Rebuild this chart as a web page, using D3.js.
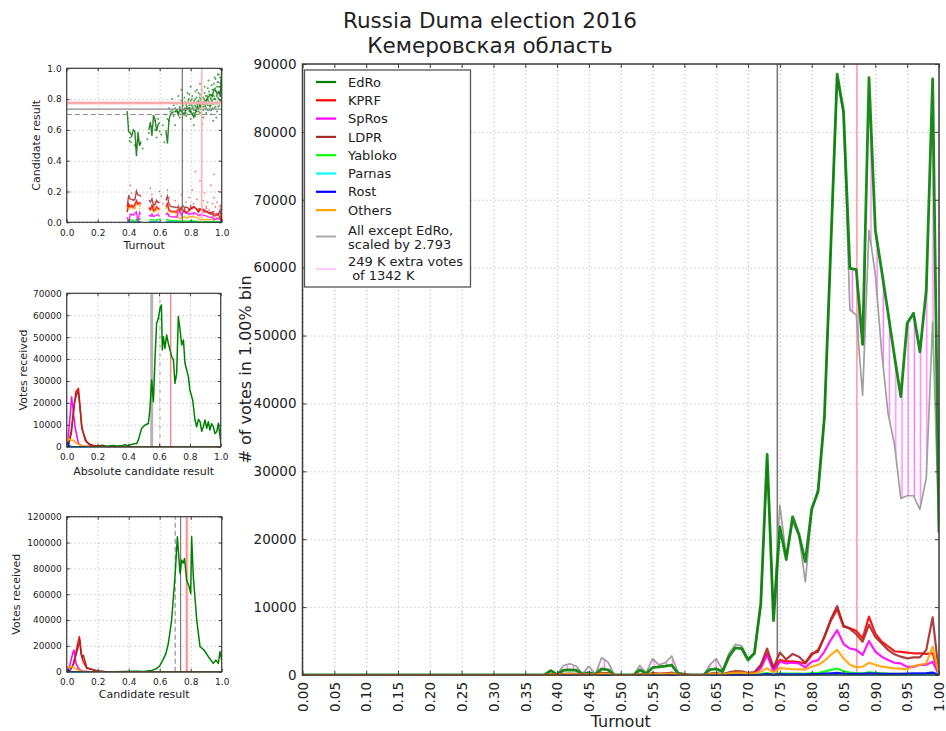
<!DOCTYPE html>
<html>
<head>
<meta charset="utf-8">
<title>Russia Duma election 2016 — Кемеровская область</title>
<script src="https://cdn.jsdelivr.net/npm/d3@7/dist/d3.min.js"></script>
<style>
  html, body { margin: 0; padding: 0; background: #fff; }
  svg { display: block; font-family: "DejaVu Sans", sans-serif; }
  text { white-space: pre; }
</style>
</head>
<body>
<svg id="fig" width="946" height="731"></svg>
<script>
// ---------------- data: votes per 1% turnout bin ----------------
const turnoutBins = d3.range(101).map(i => i / 100);
const parties = ["EdRo", "KPRF", "SpRos", "LDPR", "Yabloko", "Parnas", "Rost", "Others"];

const votesEdRo = [0,0,0,0,0,0,0,0,0,0, 0,0,0,0,0,0,0,0,0,0, 0,0,0,0,0,0,0,0,0,0, 0,0,0,0,0,0,
  0,0,0,650,50,700,750,700,100,350,50,900,750,0,0,0,0,750,200,1100,1200,1300,1450,250,100,0,0,0,800,900,500,2700,4000,3900,2200,3200,
  10500,32500,8000,21800,17000,23300,20700,16700,24500,27000,38000,63000,88500,83000,59900,59700,48700,88000,65500,59500,53300,47000,41000,51800,53300,47600,56700,87800,21000];
const votesKPRF = [0,0,0,0,0,0,0,0,0,0, 0,0,0,0,0,0,0,0,0,0, 0,0,0,0,0,0,0,0,0,0, 0,0,0,0,0,0,
  0,0,0,60,10,120,150,115,20,115,10,230,170,0,0,0,0,120,25,215,135,160,250,35,14,0,0,0,135,215,60,285,400,385,215,295,
  1300,3200,1000,2200,2000,2000,1900,1700,2950,3700,5600,8000,9700,7100,6900,6500,5400,8600,6100,4900,4200,3500,3400,3300,3200,3200,3100,3200,100];
const votesSpRos = [0,0,0,0,0,0,0,0,0,0, 0,0,0,0,0,0,0,0,0,0, 0,0,0,0,0,0,0,0,0,0, 0,0,0,0,0,0,
  0,0,0,30,0,60,70,55,10,55,0,110,80,0,0,0,0,60,12,105,65,80,120,18,6,0,0,0,65,105,30,140,195,185,105,140,
  1000,2950,500,1950,1700,1800,1700,1130,1950,2200,3450,5150,6600,4600,3900,3700,2950,5000,3450,2700,2200,1800,1700,1200,1200,1500,1500,1950,50];
const votesLDPR = [0,0,0,0,0,0,0,0,0,0, 0,0,0,0,0,0,0,0,0,0, 0,0,0,0,0,0,0,0,0,0, 0,0,0,0,0,0,
  0,0,0,90,15,180,200,165,25,165,15,320,240,0,0,0,0,180,40,300,190,225,350,50,20,0,0,0,190,300,90,400,565,540,300,415,
  1500,3900,1100,3300,2300,3100,2700,1800,3200,3400,5700,8200,10150,7300,6800,6000,4900,7400,5600,4650,3700,3050,2700,2450,2600,2600,3700,8500,100];
const votesYabloko = [0,0,0,0,0,0,0,0,0,0, 0,0,0,0,0,0,0,0,0,0, 0,0,0,0,0,0,0,0,0,0, 0,0,0,0,0,0,
  0,0,0,10,0,20,20,15,0,15,0,40,30,0,0,0,0,20,5,35,22,27,40,8,2,0,0,0,22,35,10,45,65,60,35,45,
  150,300,100,250,200,220,200,180,280,330,500,750,950,550,350,280,250,380,300,250,200,180,170,150,150,150,180,250,10];
const votesParnas = [0,0,0,0,0,0,0,0,0,0, 0,0,0,0,0,0,0,0,0,0, 0,0,0,0,0,0,0,0,0,0, 0,0,0,0,0,0,
  0,0,0,0,0,5,5,5,0,5,0,5,5,0,0,0,0,5,0,5,5,5,10,0,0,0,0,0,5,5,2,10,10,10,5,10,
  30,60,20,50,40,40,40,35,50,60,80,100,120,80,60,50,50,70,60,50,45,40,40,40,45,50,55,70,5];
const votesRost = [0,0,0,0,0,0,0,0,0,0, 0,0,0,0,0,0,0,0,0,0, 0,0,0,0,0,0,0,0,0,0, 0,0,0,0,0,0,
  0,0,0,0,0,5,5,5,0,5,0,8,5,0,0,0,0,5,0,10,5,7,10,0,0,0,0,0,5,10,3,15,20,20,10,15,
  60,150,50,120,110,110,100,90,130,150,200,250,300,220,180,170,160,230,200,180,170,160,170,200,230,250,280,350,30];
const votesOthers = [0,0,0,0,0,0,0,0,0,0, 0,0,0,0,0,0,0,0,0,0, 0,0,0,0,0,0,0,0,0,0, 0,0,0,0,0,0,
  0,0,0,60,10,110,140,105,15,105,10,200,150,0,0,0,0,110,25,190,115,140,220,32,12,0,0,0,115,190,55,250,355,340,190,260,
  500,1000,350,1000,930,850,830,830,1230,1500,2100,2950,3700,2450,1500,1130,1230,1800,1500,1230,1130,980,930,830,1330,1470,1700,4170,50];
// all parties except EdRo, multiplied by the scale factor
const votesRestScaled = [0,0,0,0,0,0,0,0,0,0, 0,0,0,0,0,0,0,0,0,0, 0,0,0,0,0,0,0,0,0,0, 0,0,0,0,0,0,
  0,0,0,700,100,1400,1650,1300,200,1300,100,2550,1900,0,0,0,0,1400,300,2400,1500,1800,2800,400,150,0,0,0,1500,2400,700,3200,4500,4300,2400,3300,
  10300,31500,9000,25000,17500,22500,20500,13700,24000,27500,38000,63000,88000,82500,53800,53000,41200,65500,59000,47500,38500,34000,26000,26400,26400,24400,29000,52000,21000];
const restScaleFactor = 2.793;
const extraVotesK = 249, totalVotesK = 1342;
const turnoutRefValues = [0.746, 0.871];     // overall / EdRo-weighted turnout
const resultRefValues = [0.70, 0.735, 0.775]; // candidate result reference levels
const absResultRefValues = [0.552, 0.606, 0.675];

// ---------------- data: polling stations (turnout, EdRo result) ----------------
const edroStations = [
  [0.405,0.53],[0.41,0.55],[0.415,0.52],[0.44,0.50],[0.45,0.49],[0.47,0.51],[0.49,0.48],[0.52,0.54],[0.55,0.62],[0.56,0.69],
  [0.57,0.60],[0.58,0.55],[0.59,0.67],[0.61,0.57],[0.62,0.63],[0.63,0.52],[0.64,0.70],[0.66,0.66],[0.67,0.72],[0.68,0.80],
  [0.69,0.69],[0.70,0.74],[0.70,0.63],[0.71,0.77],[0.72,0.71],[0.72,0.82],[0.73,0.75],[0.73,0.68],[0.74,0.79],[0.74,0.72],
  [0.75,0.76],[0.75,0.70],[0.76,0.81],[0.76,0.74],[0.77,0.73],[0.77,0.78],[0.78,0.70],[0.78,0.84],[0.79,0.76],[0.79,0.72],
  [0.80,0.79],[0.80,0.74],[0.80,0.67],[0.81,0.77],[0.81,0.82],[0.82,0.73],[0.82,0.78],[0.83,0.75],[0.83,0.80],[0.83,0.69],
  [0.84,0.77],[0.84,0.72],[0.84,0.86],[0.85,0.74],[0.85,0.79],[0.86,0.76],[0.86,0.71],[0.86,0.83],[0.87,0.78],[0.87,0.73],
  [0.88,0.75],[0.88,0.81],[0.88,0.68],[0.89,0.77],[0.89,0.84],[0.90,0.74],[0.90,0.79],[0.90,0.71],[0.91,0.80],[0.91,0.76],
  [0.91,0.87],[0.92,0.73],[0.92,0.78],[0.92,0.83],[0.93,0.76],[0.93,0.81],[0.93,0.70],[0.94,0.79],[0.94,0.74],[0.94,0.86],
  [0.95,0.77],[0.95,0.82],[0.95,0.90],[0.96,0.75],[0.96,0.80],[0.96,0.85],[0.96,0.93],[0.97,0.78],[0.97,0.83],[0.97,0.88],
  [0.97,0.72],[0.98,0.80],[0.98,0.85],[0.98,0.91],[0.98,0.96],[0.985,0.76],[0.99,0.82],[0.99,0.88],[0.99,0.94],[0.995,0.99],
  [1.0,0.97],[1.0,0.86],[1.0,0.91],[0.995,0.79],[0.965,0.68],[0.945,0.66],[0.875,0.64],[0.82,0.63],[0.86,0.90],[0.80,0.88],
  [0.74,0.86],[0.765,0.77],[0.775,0.75],[0.785,0.79],[0.805,0.76],[0.815,0.74],[0.835,0.78],[0.845,0.75],[0.855,0.77],[0.865,0.80],
  [0.895,0.76],[0.905,0.82],[0.915,0.78],[0.925,0.75],[0.935,0.79],[0.955,0.80],[0.975,0.81],[0.985,0.84],[0.993,0.90],[0.965,0.77],
  [0.755,0.73],[0.762,0.78],[0.768,0.71],[0.772,0.76],[0.782,0.74],[0.788,0.80],[0.792,0.73],[0.798,0.77],[0.803,0.72],[0.808,0.80],
  [0.812,0.75],[0.818,0.71],[0.822,0.79],[0.828,0.76],[0.832,0.73],[0.838,0.81],[0.842,0.74],[0.848,0.78],[0.852,0.72],[0.858,0.81],
  [0.862,0.75],[0.868,0.79],[0.872,0.70],[0.878,0.77],[0.882,0.73],[0.888,0.80],[0.892,0.75],[0.898,0.82],[0.902,0.77],[0.908,0.73],
  [0.912,0.79],[0.918,0.85],[0.922,0.76],[0.928,0.80],[0.932,0.73],[0.938,0.83],[0.942,0.77],[0.948,0.80],[0.952,0.74],[0.958,0.87],
  [0.962,0.78],[0.968,0.82],[0.972,0.91],[0.978,0.75],[0.982,0.88],[0.988,0.79],[0.992,0.85],[0.997,0.92],[0.975,0.96],[0.955,0.94],
  [0.935,0.89],[0.915,0.92],[0.89,0.88],[0.87,0.86],[0.85,0.84],[0.83,0.85],[0.79,0.83],[0.77,0.69],[0.81,0.70],[0.69,0.76],
  [0.68,0.73],[0.71,0.72],[0.66,0.74],[0.65,0.67],[0.60,0.59],[0.57,0.66],[0.53,0.58],[0.46,0.53]
];
// [turnout, result, party index]
const otherStations = [
  [0.70,0.14,1],[0.72,0.11,1],[0.74,0.18,1],[0.76,0.09,1],[0.77,0.13,1],[0.79,0.16,1],[0.80,0.10,1],[0.81,0.21,1],[0.82,0.12,1],[0.84,0.15,1],
  [0.85,0.09,1],[0.86,0.27,1],[0.87,0.11,1],[0.88,0.14,1],[0.89,0.19,1],[0.90,0.10,1],[0.91,0.13,1],[0.92,0.08,1],[0.93,0.24,1],[0.94,0.12,1],
  [0.95,0.16,1],[0.96,0.10,1],[0.97,0.13,1],[0.98,0.20,1],[0.99,0.11,1],[1.0,0.09,1],[0.83,0.33,1],[0.95,0.31,1],[0.62,0.12,1],[0.56,0.10,1],
  [0.41,0.24,3],[0.42,0.19,3],[0.43,0.15,3],[0.54,0.22,3],[0.55,0.18,3],[0.57,0.13,3],[0.60,0.20,3],[0.61,0.17,3],[0.65,0.21,3],[0.66,0.16,3],
  [0.75,0.08,3],[0.80,0.11,3],[0.85,0.07,3],[0.90,0.09,3],[0.95,0.07,3],[0.99,0.10,3],
  [0.42,0.05,2],[0.47,0.07,2],[0.55,0.04,2],[0.59,0.06,2],[0.66,0.05,2],[0.74,0.06,2],[0.82,0.05,2],[0.88,0.06,2],[0.94,0.05,2],[0.99,0.06,2],
  [0.42,0.10,7],[0.46,0.13,7],[0.47,0.09,7],[0.57,0.11,7],[0.58,0.07,7],[0.64,0.06,7],[0.70,0.04,7],[0.78,0.03,7],[0.86,0.04,7],[0.93,0.03,7],[0.98,0.05,7],
  [0.45,0.02,4],[0.60,0.02,4],[0.80,0.01,4],[0.95,0.01,4],[0.43,0.01,6],[0.58,0.01,6],[0.85,0.005,6]
];

// ---------------- data: votes vs absolute result (votes / registered) ----------------
const absEdRo = [[0,0],[0.10,0],[0.20,300],[0.23,700],[0.26,200],[0.30,500],[0.33,300],[0.36,600],[0.38,900],[0.40,500],
  [0.42,1000],[0.44,1400],[0.455,1500],[0.465,3000],[0.487,8400],[0.509,9900],[0.53,10600],[0.54,16700],[0.552,30400],[0.563,20500],
  [0.574,41100],[0.584,56300],[0.595,58600],[0.606,63200],[0.615,64700],[0.621,44100],[0.628,50200],[0.638,44900],[0.649,51000],[0.66,47200],
  [0.671,44100],[0.682,41100],[0.693,39600],[0.703,28900],[0.714,33500],[0.725,59400],[0.736,53300],[0.747,46400],[0.758,48700],[0.768,38100],
  [0.779,35000],[0.79,32000],[0.80,25900],[0.818,21300],[0.833,12200],[0.844,9100],[0.855,12500],[0.866,11400],[0.877,7000],[0.887,9100],
  [0.898,12200],[0.909,8400],[0.92,11400],[0.93,7600],[0.941,10500],[0.952,9100],[0.963,6000],[0.974,6800],[0.985,10700],[1.0,2300]];
const absKPRF = [[0,0],[0.01,500],[0.03,7600],[0.048,18300],[0.06,25100],[0.076,26600],[0.087,18300],[0.097,9100],[0.12,3000],[0.15,760],[0.2,300],[0.25,0],[1,0]];
const absSpRos = [[0,0],[0.01,5000],[0.02,12200],[0.032,22800],[0.043,16000],[0.054,9100],[0.076,1500],[0.1,300],[0.15,0],[1,0]];
const absLDPR = [[0,0],[0.01,400],[0.03,6000],[0.05,20000],[0.065,24000],[0.075,25500],[0.09,15000],[0.1,8000],[0.13,2000],[0.17,500],[0.22,200],[0.3,0],[1,0]];
const absYabloko = [[0,1500],[0.01,1000],[0.02,200],[0.04,0],[1,0]];
const absParnas = [[0,500],[0.01,100],[0.02,0],[1,0]];
const absRost = [[0,3000],[0.005,2500],[0.015,300],[0.03,0],[1,0]];
const absOthers = [[0,2000],[0.01,3800],[0.026,3000],[0.043,3000],[0.065,1500],[0.1,300],[0.15,0],[1,0]];

// ---------------- data: votes vs candidate result ----------------
const resEdRo = [[0,0],[0.3,0],[0.45,300],[0.5,200],[0.52,500],[0.55,1000],[0.58,2500],[0.60,4500],[0.62,9000],[0.64,14000],
  [0.656,22000],[0.677,40000],[0.70,76000],[0.714,104500],[0.731,76000],[0.742,86400],[0.753,84000],[0.76,87700],[0.774,71000],[0.79,65800],
  [0.80,60600],[0.806,104500],[0.817,73500],[0.839,40000],[0.86,19400],[0.886,16800],[0.914,11600],[0.946,6450],[0.963,9000],[0.978,6450],
  [0.989,15500],[1.0,9000]];
const resKPRF = [[0,0],[0.02,1000],[0.04,5000],[0.055,12000],[0.069,20600],[0.082,27100],[0.092,14200],[0.107,7700],[0.13,2600],[0.2,500],[0.25,0],[1,0]];
const resSpRos = [[0,0],[0.01,2000],[0.02,5200],[0.039,14200],[0.047,16800],[0.06,6450],[0.075,2600],[0.1,500],[0.15,0],[1,0]];
const resLDPR = [[0,0],[0.02,800],[0.045,6000],[0.06,13000],[0.075,19400],[0.086,24500],[0.097,11000],[0.107,12900],[0.13,3000],[0.2,600],[0.25,0],[1,0]];
const resYabloko = [[0,1200],[0.01,800],[0.02,200],[0.04,0],[1,0]];
const resParnas = [[0,400],[0.01,100],[0.02,0],[1,0]];
const resRost = [[0,2500],[0.005,2000],[0.015,300],[0.03,0],[1,0]];
const resOthers = [[0,2000],[0.01,3900],[0.03,3900],[0.054,2600],[0.075,1300],[0.1,400],[0.15,0],[1,0]];

// ---------------- ticks ----------------
const mainXTicks = [0,0.05,0.1,0.15,0.2,0.25,0.3,0.35,0.4,0.45,0.5,0.55,0.6,0.65,0.7,0.75,0.8,0.85,0.9,0.95,1];
const mainYTicks = [0,10000,20000,30000,40000,50000,60000,70000,80000,90000];
const unitTicks = [0,0.2,0.4,0.6,0.8,1];
const absYTicks = [0,10000,20000,30000,40000,50000,60000,70000];
const resYTicks = [0,20000,40000,60000,80000,100000,120000];

// ---------------- styling ----------------
const partyColors = ["#008000", "#ff0000", "#ff00ff", "#a52a2a", "#00ff00", "#00ffff", "#0000ff", "#ffa500"];
const TEXT = "#222", SPINE = "#3c3c3c";

const binVotes = [votesEdRo, votesKPRF, votesSpRos, votesLDPR, votesYabloko, votesParnas, votesRost, votesOthers];
const absCurves = [absEdRo, absKPRF, absSpRos, absLDPR, absYabloko, absParnas, absRost, absOthers];
const resCurves = [resEdRo, resKPRF, resSpRos, resLDPR, resYabloko, resParnas, resRost, resOthers];

const svg = d3.select("#fig");
const defs = svg.append("defs");

// Dotted grid behind a panel.
function drawAxes(g, xs, ys, o) {
  const [xl, xr] = xs.range(), [yb, yt] = ys.range();
  const h = yb - yt, w = xr - xl;
  const grid = g.append("g");
  grid.append("g").attr("transform", `translate(0,${yb})`)
    .call(d3.axisBottom(xs).tickValues(o.xTicks).tickSize(-h).tickFormat(""));
  grid.append("g").attr("transform", `translate(${xl},0)`)
    .call(d3.axisLeft(ys).tickValues(o.yTicks).tickSize(-w).tickFormat(""));
  grid.selectAll(".domain").remove();
  grid.selectAll("line").attr("stroke", "#a8a8a8").attr("stroke-width", 0.9).attr("stroke-dasharray", "1,3");
}
// Inward ticks on all four sides, tick labels and the frame.
function drawFrame(g, xs, ys, o) {
  const [xl, xr] = xs.range(), [yb, yt] = ys.range();
  const L = o.tickLen;
  const ax = g.append("g");
  const bottom = ax.append("g").attr("transform", `translate(0,${yb})`)
    .call(d3.axisBottom(xs).tickValues(o.xTicks).tickFormat(o.xFmt).tickSizeInner(-L).tickSizeOuter(0).tickPadding(o.xPad));
  ax.append("g").attr("transform", `translate(0,${yt})`)
    .call(d3.axisTop(xs).tickValues(o.xTicks).tickFormat("").tickSizeInner(-L).tickSizeOuter(0));
  ax.append("g").attr("transform", `translate(${xl},0)`)
    .call(d3.axisLeft(ys).tickValues(o.yTicks).tickFormat(o.yFmt).tickSizeInner(-L).tickSizeOuter(0).tickPadding(o.yPad));
  ax.append("g").attr("transform", `translate(${xr},0)`)
    .call(d3.axisRight(ys).tickValues(o.yTicks).tickFormat("").tickSizeInner(-L).tickSizeOuter(0));
  ax.selectAll(".domain").remove();
  ax.selectAll(".tick line").attr("stroke", SPINE).attr("stroke-width", 1);
  ax.selectAll("text").attr("fill", TEXT).attr("font-size", o.fontSize).attr("font-family", "DejaVu Sans, sans-serif");
  if (o.rotateX) {
    bottom.selectAll("text")
      .attr("transform", "rotate(-90)").attr("text-anchor", "end")
      .attr("x", -o.xPad).attr("y", 0).attr("dy", "0.35em");
  }
  g.append("rect").attr("x", xl).attr("y", yt).attr("width", xr - xl).attr("height", yb - yt)
    .attr("fill", "none").attr("stroke", SPINE).attr("stroke-width", o.frameW);
}
function clipTo(id, xs, ys) {
  const [xl, xr] = xs.range(), [yb, yt] = ys.range();
  defs.append("clipPath").attr("id", id).append("rect")
    .attr("x", xl).attr("y", yt - 1).attr("width", xr - xl).attr("height", yb - yt + 2);
  return `url(#${id})`;
}
function vLine(g, xs, ys, v, stroke, width, dash) {
  const l = g.append("line").attr("x1", xs(v)).attr("x2", xs(v))
    .attr("y1", ys.range()[0]).attr("y2", ys.range()[1]).attr("stroke", stroke).attr("stroke-width", width);
  if (dash) l.attr("stroke-dasharray", dash);
}
function hLine(g, xs, ys, v, stroke, width, dash) {
  const l = g.append("line").attr("x1", xs.range()[0]).attr("x2", xs.range()[1])
    .attr("y1", ys(v)).attr("y2", ys(v)).attr("stroke", stroke).attr("stroke-width", width);
  if (dash) l.attr("stroke-dasharray", dash);
}

// ======================= main turnout histogram =======================
const xMain = d3.scaleLinear().domain([0, 1]).range([302.5, 939]);
const yMain = d3.scaleLinear().domain([0, 90000]).range([675, 64]);
const main = svg.append("g");
drawAxes(main, xMain, yMain, { xTicks: mainXTicks, yTicks: mainYTicks });
const mainPlot = main.append("g").attr("clip-path", clipTo("clipMain", xMain, yMain));

// hatch between EdRo and the scaled sum of the rest
defs.append("pattern").attr("id", "hatchPink").attr("patternUnits", "userSpaceOnUse")
  .attr("width", 6.2).attr("height", 10)
  .append("line").attr("x1", 3).attr("x2", 3).attr("y1", 0).attr("y2", 10)
  .attr("stroke", "#ff7dff").attr("stroke-width", 1.4);
const extraArea = d3.area()
  .x((d, i) => xMain(turnoutBins[i]))
  .y0((d, i) => yMain(votesRestScaled[i]))
  .y1(d => yMain(d));
mainPlot.append("path").datum(votesEdRo).attr("d", extraArea).attr("fill", "url(#hatchPink)");

// reference turnout lines
vLine(mainPlot, xMain, yMain, turnoutRefValues[0], "#7a7a7a", 1.6);
vLine(mainPlot, xMain, yMain, turnoutRefValues[1], "#ff9d9d", 1.6);

const binLine = d3.line().x((d, i) => xMain(turnoutBins[i])).y(d => yMain(d));
mainPlot.append("path").datum(votesRestScaled).attr("d", binLine)
  .attr("fill", "none").attr("stroke", "#a0a0a0").attr("stroke-width", 1.7).attr("stroke-linejoin", "round");
binVotes.forEach((arr, k) => {
  mainPlot.append("path").datum(arr).attr("d", binLine)
    .attr("fill", "none").attr("stroke", partyColors[k])
    .attr("stroke-width", k === 0 ? 2.8 : 2.2).attr("stroke-linejoin", "round")
    .attr("stroke-opacity", 0.9);
});
drawFrame(main, xMain, yMain, {
  xTicks: mainXTicks, yTicks: mainYTicks, xFmt: d3.format(".2f"), yFmt: d3.format("d"),
  tickLen: 4, xPad: 7, yPad: 6, fontSize: 13.5, rotateX: true, frameW: 1.5
});

// legend
const lg = svg.append("g").attr("font-family", "DejaVu Sans, sans-serif").attr("font-size", 13).attr("fill", TEXT);
lg.append("rect").attr("x", 304.5).attr("y", 70).attr("width", 166).attr("height", 217)
  .attr("fill", "#fff").attr("stroke", "#555").attr("stroke-width", 1.3);
const rowY = d3.scaleLinear().domain([0, 1]).range([82, 100.3]);
parties.forEach((p, k) => {
  const y = rowY(k);
  lg.append("line").attr("x1", 316).attr("x2", 336).attr("y1", y).attr("y2", y)
    .attr("stroke", partyColors[k]).attr("stroke-width", 2.2);
  lg.append("text").attr("x", 348).attr("y", y).attr("dy", "0.36em").text(p);
});
lg.append("line").attr("x1", 316).attr("x2", 336).attr("y1", 236.5).attr("y2", 236.5)
  .attr("stroke", "#aaaaaa").attr("stroke-width", 2);
lg.append("text").attr("x", 348).attr("y", 230).attr("dy", "0.36em").text("All except EdRo,");
lg.append("text").attr("x", 348).attr("y", 244.5).attr("dy", "0.36em").text(`scaled by ${restScaleFactor}`);
lg.append("line").attr("x1", 316).attr("x2", 336).attr("y1", 269).attr("y2", 269)
  .attr("stroke", "#ffa8ff").attr("stroke-width", 1.2);
lg.append("text").attr("x", 348).attr("y", 261).attr("dy", "0.36em").text(`${extraVotesK} K extra votes`);
lg.append("text").attr("x", 348).attr("y", 275).attr("dy", "0.36em").text(` of ${totalVotesK} K`);

// titles and axis labels
const labels = svg.append("g").attr("font-family", "DejaVu Sans, sans-serif").attr("fill", TEXT).attr("text-anchor", "middle");
labels.append("text").attr("x", 490).attr("y", 28).attr("font-size", 21.5).text("Russia Duma election 2016");
labels.append("text").attr("x", 490).attr("y", 53).attr("font-size", 21.5).text("Кемеровская область");
labels.append("text").attr("x", d3.mean(xMain.range())).attr("y", 727).attr("font-size", 16).text("Turnout");
labels.append("text").attr("transform", `translate(251,${d3.mean(yMain.range())}) rotate(-90)`)
  .attr("font-size", 16).text("# of votes in 1.00% bin");

const smallAxis = { tickLen: 3, xPad: 7, yPad: 5, fontSize: 9, frameW: 1.2 };

// ======================= small panel 1: result vs turnout =======================
const x1 = d3.scaleLinear().domain([0, 1]).range([66.7, 221.7]);
const y1 = d3.scaleLinear().domain([0, 1]).range([222.3, 68.3]);
const p1 = svg.append("g");
drawAxes(p1, x1, y1, { xTicks: unitTicks, yTicks: unitTicks });
const p1Plot = p1.append("g").attr("clip-path", clipTo("clipP1", x1, y1));
p1Plot.selectAll(".st").data(edroStations).join("circle")
  .attr("cx", d => x1(d[0])).attr("cy", d => y1(d[1])).attr("r", 1)
  .attr("fill", partyColors[0]).attr("fill-opacity", 0.7);
p1Plot.selectAll(".so").data(otherStations).join("circle")
  .attr("cx", d => x1(d[0])).attr("cy", d => y1(d[1])).attr("r", 0.8)
  .attr("fill", d => partyColors[d[2]]).attr("fill-opacity", 0.7);
// per-bin results from the turnout histogram
const binTotals = turnoutBins.map((_, i) => binVotes.reduce((s, arr) => s + arr[i], 0));
const shareLine = d3.line().defined((d, i) => binTotals[i] > 0)
  .x((d, i) => x1(turnoutBins[i])).y((d, i) => y1(d / binTotals[i]));
[...binVotes.keys()].reverse().forEach(k => {
  p1Plot.append("path").datum(binVotes[k]).attr("d", shareLine)
    .attr("fill", "none").attr("stroke", k === 0 ? "#0a6e0a" : partyColors[k]).attr("stroke-width", 1.4)
    .attr("stroke-opacity", 0.85);
});
hLine(p1Plot, x1, y1, resultRefValues[0], "#8a8a8a", 1.2, "5,3");
hLine(p1Plot, x1, y1, resultRefValues[1], "#8a8a8a", 1.2);
hLine(p1Plot, x1, y1, resultRefValues[2], "#ffc4c4", 3);
hLine(p1Plot, x1, y1, resultRefValues[2], "#ff8c8c", 0.8);
vLine(p1Plot, x1, y1, turnoutRefValues[0], "#7a7a7a", 1.3);
vLine(p1Plot, x1, y1, turnoutRefValues[1], "#ffb0b0", 1.6);
drawFrame(p1, x1, y1, Object.assign({ xTicks: unitTicks, yTicks: unitTicks, xFmt: d3.format(".1f"), yFmt: d3.format(".1f") }, smallAxis));
labels.append("text").attr("x", d3.mean(x1.range())).attr("y", 249).attr("font-size", 11).text("Turnout");
labels.append("text").attr("transform", `translate(40,${d3.mean(y1.range())}) rotate(-90)`)
  .attr("font-size", 11).text("Candidate result");

// ======================= small panel 2: votes vs absolute result =======================
const x2 = d3.scaleLinear().domain([0, 1]).range([66.7, 220.7]);
const y2 = d3.scaleLinear().domain([0, 70000]).range([446.7, 293.3]);
const p2 = svg.append("g");
drawAxes(p2, x2, y2, { xTicks: unitTicks, yTicks: absYTicks });
const p2Plot = p2.append("g").attr("clip-path", clipTo("clipP2", x2, y2));
vLine(p2Plot, x2, y2, absResultRefValues[0], "#b4b4b4", 3);
vLine(p2Plot, x2, y2, absResultRefValues[1], "#999", 1, "3,6");
vLine(p2Plot, x2, y2, absResultRefValues[2], "#ff8080", 1.3);
const absLine = d3.line().x(d => x2(d[0])).y(d => y2(d[1]));
absCurves.forEach((c, k) => {
  p2Plot.append("path").datum(c).attr("d", absLine).attr("fill", "none")
    .attr("stroke", partyColors[k]).attr("stroke-width", 1.5).attr("stroke-linejoin", "round");
});
drawFrame(p2, x2, y2, Object.assign({ xTicks: unitTicks, yTicks: absYTicks, xFmt: d3.format(".1f"), yFmt: d3.format("d") }, smallAxis));
labels.append("text").attr("x", d3.mean(x2.range())).attr("y", 475).attr("font-size", 11).text("Absolute candidate result");
labels.append("text").attr("transform", `translate(27,${d3.mean(y2.range())}) rotate(-90)`)
  .attr("font-size", 11).text("Votes received");

// ======================= small panel 3: votes vs candidate result =======================
const x3 = d3.scaleLinear().domain([0, 1]).range([66.7, 221.7]);
const y3 = d3.scaleLinear().domain([0, 120000]).range([671.7, 516.7]);
const p3 = svg.append("g");
drawAxes(p3, x3, y3, { xTicks: unitTicks, yTicks: resYTicks });
const p3Plot = p3.append("g").attr("clip-path", clipTo("clipP3", x3, y3));
vLine(p3Plot, x3, y3, resultRefValues[0], "#9a9a9a", 1.3, "5,3");
vLine(p3Plot, x3, y3, resultRefValues[1], "#7a7a7a", 1.2);
vLine(p3Plot, x3, y3, resultRefValues[2], "#ffc4c4", 3);
vLine(p3Plot, x3, y3, resultRefValues[2], "#ff7070", 0.9);
const resLine = d3.line().x(d => x3(d[0])).y(d => y3(d[1]));
resCurves.forEach((c, k) => {
  p3Plot.append("path").datum(c).attr("d", resLine).attr("fill", "none")
    .attr("stroke", partyColors[k]).attr("stroke-width", 1.5).attr("stroke-linejoin", "round");
});
drawFrame(p3, x3, y3, Object.assign({ xTicks: unitTicks, yTicks: resYTicks, xFmt: d3.format(".1f"), yFmt: d3.format("d") }, smallAxis));
labels.append("text").attr("x", d3.mean(x3.range())).attr("y", 698).attr("font-size", 11).text("Candidate result");
labels.append("text").attr("transform", `translate(20,${d3.mean(y3.range())}) rotate(-90)`)
  .attr("font-size", 11).text("Votes received");
</script>
</body>
</html>
